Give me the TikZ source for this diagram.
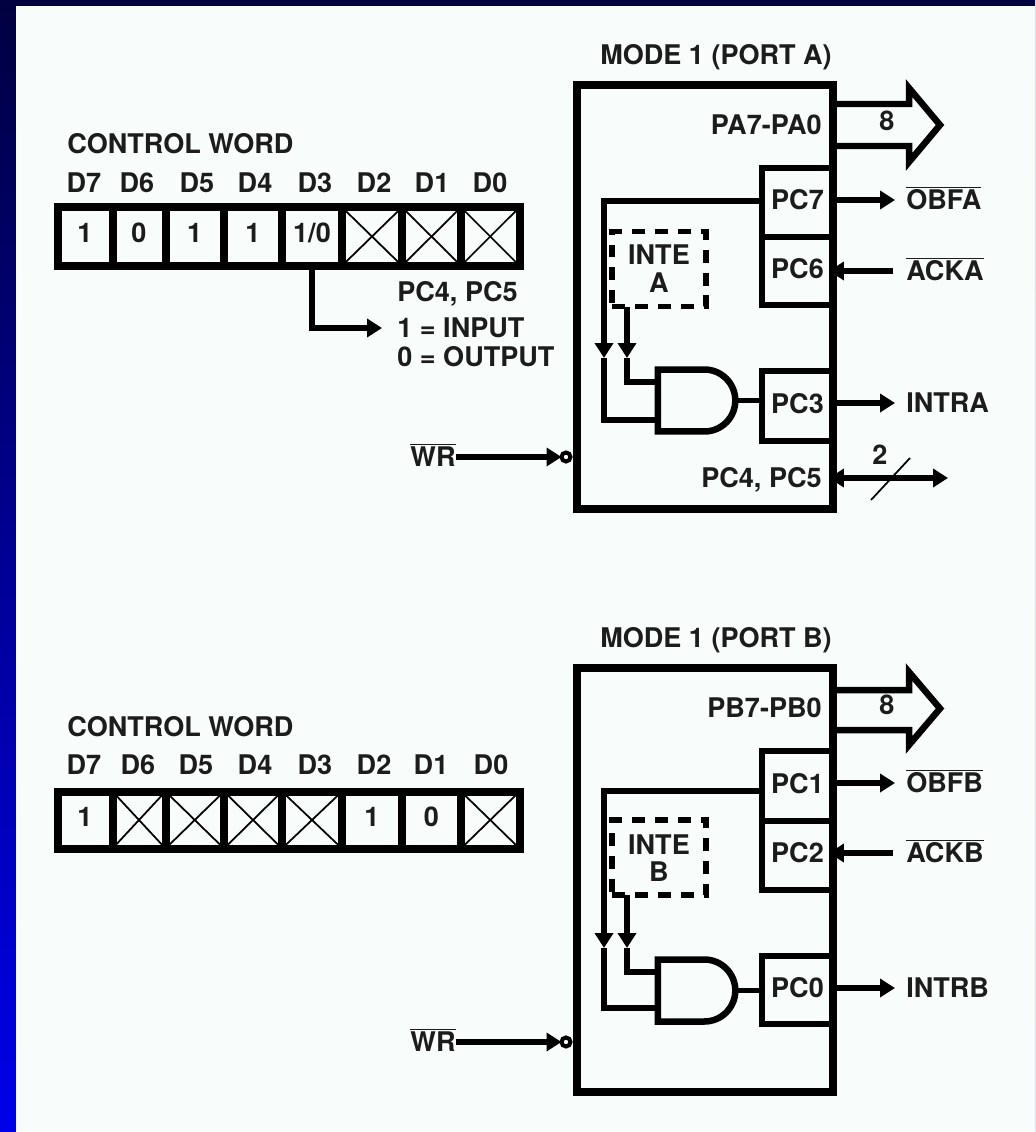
\documentclass[tikz,border=0pt]{standalone}
\usepackage{fontspec}
\setmainfont{TeX Gyre Heros}
\usepackage{xcolor}
\usetikzlibrary{arrows.meta, calc, shapes.gates.logic.US}

\definecolor{paperwhite}{HTML}{F8FCFA}
\definecolor{inktext}{HTML}{1C1C1C}

\tikzset{
  lab/.style={inner sep=0pt, text height=11.1pt, text depth=0pt, text=inktext,
    font=\fontsize{15.4}{18}\selectfont\bfseries},
  wordcell/.style={draw, lab, outer sep=0pt, line width=0.16cm, text depth=4pt,
    minimum width=#1*0.02cm, minimum height=1.17cm},
  crossline/.style={line width=0.035cm},
  blockbox/.style={draw, outer sep=0pt, line width=0.17cm, minimum width=5.12cm, minimum height=8.48cm},
  pcbox/.style={draw, lab, outer sep=0pt, line width=0.11cm, text depth=0.1cm, minimum width=1.42cm, minimum height=#1*0.02cm},
  intebox/.style={draw, lab, align=center, outer sep=0pt, line width=0.11cm,
    dash pattern=on 0.26cm off 0.2cm, minimum width=1.88cm, minimum height=1.5cm},
  andbox/.style={and gate US, draw, outer sep=0pt, line width=0.13cm, minimum width=1.5cm, minimum height=1.24cm},
  wire/.style={line width=0.115cm},
  busline/.style={line width=0.13cm, miter limit=10},
  bubble/.style={circle, draw, inner sep=0pt, outer sep=0pt, line width=0.08cm, minimum size=0.18cm},
}
\newcommand{\barred}[1]{$\overline{\hbox{#1}}$}

\begin{document}
\begin{tikzpicture}[x=0.02cm, y=-0.02cm, >={Triangle[length=0.3cm, width=0.36cm]}]
        \useasboundingbox (0,0) rectangle (1035,1132);
        % Frame
        \shade[top color=black!75!blue, bottom color=blue!92!black] (0,0) rectangle (1035,1132);
        \fill[paperwhite] (16,6) rectangle (1035,1132);

        % Control word, port A
        \node[lab, anchor=west] (titleA) at (67,144) {CONTROL WORD};
        \node[lab] (bitAseven) at (84,183) {D7};
        \node[lab] (bitAsix) at (137,183) {D6};
        \node[lab] (bitAfive) at (197,183) {D5};
        \node[lab] (bitAfour) at (255,183) {D4};
        \node[lab] (bitAthree) at (315,183) {D3};
        \node[lab] (bitAtwo) at (374,183) {D2};
        \node[lab] (bitAone) at (432,183) {D1};
        \node[lab] (bitAzero) at (490,183) {D0};

        \node[wordcell=55] (wAseven) at (85,236.5) {1};
        \node[wordcell=53] (wAsix) at (139,236.5) {0};
        \node[wordcell=58.5] (wAfive) at (194.75,236.5) {1};
        \node[wordcell=58] (wAfour) at (253,236.5) {1};
        \node[wordcell=60] (wAthree) at (312,236.5) {1/0};
        \node[wordcell=60] (wAtwo) at (372,236.5) {};
        \node[wordcell=59] (wAone) at (431.5,236.5) {};
        \node[wordcell=58.5] (wAzero) at (490.25,236.5) {};

        \draw[crossline] (wAtwo.north west) -- (wAtwo.south east);
        \draw[crossline] (wAtwo.south west) -- (wAtwo.north east);
        \draw[crossline] (wAone.north west) -- (wAone.south east);
        \draw[crossline] (wAone.south west) -- (wAone.north east);
        \draw[crossline] (wAzero.north west) -- (wAzero.south east);
        \draw[crossline] (wAzero.south west) -- (wAzero.north east);

        \node[lab, anchor=west] (noteAtop) at (397,292) {PC4, PC5};
        \node[lab, anchor=west] (noteAin) at (397,328) {1 = INPUT};
        \node[lab, anchor=west] (noteAout) at (397,357) {0 = OUTPUT};
        \draw[wire, ->, shorten >=0.3cm] (wAthree.south) |- (noteAin.west);

        % Port A block
        \node[lab] (modeA) at (716,55) {MODE 1 (PORT A)};
        \node[pcbox=69] (pcAseven) at (797.5,202.5) {PC7};
        \node[pcbox=68] (pcAsix) at (797.5,271) {PC6};
        \node[pcbox=70] (pcAthree) at (797.5,406) {PC3};
        \node[blockbox] (blockA) at (705,297) {};
        \node[lab, anchor=east] (portA) at (822,125) {PA7-PA0};
        \node[lab, anchor=east] (pinsA) at (822,478) {PC4, PC5};

        % Bus arrow, port A
        \draw[busline] (blockA.east |- 0,104) -- (909,104) -- (909,88) -- (940,125) -- (909,162) -- (909,146) -- (blockA.east |- 0,146);
        \node[lab] (busA) at (887,121) {8};

        % Latch and gate, port A
        \node[intebox] (inteA) at (659,269) {};
        \node[lab] (inteAtop) at (659,255) {INTE};
        \node[lab] (inteAlow) at (659,283) {A};
        \node[andbox] (andA) at (694,400.5) {};
        \coordinate (bendA) at (604,201);
        \coordinate (tipAone) at (604,358);
        \coordinate (tapA) at (627,307);
        \coordinate (tipAtwo) at (627,358);
        \coordinate (inAone) at ($(andA.west)+(0,-18.5)$);
        \coordinate (inAtwo) at ($(andA.west)+(0,19.5)$);
        \draw[wire, ->] (bendA -| pcAseven.west) -- (bendA) -- (tipAone);
        \draw[wire] (tipAone) |- (inAtwo);
        \draw[wire, ->] (tapA) -- (tipAtwo);
        \draw[wire] (tipAtwo) |- (inAone);
        \draw[wire] (andA.east) -- (andA.east -| pcAthree.west);

        % Port A pins
        \node[lab, anchor=west] (obfA) at (906,200) {\barred{OBFA}};
        \node[lab, anchor=west] (ackA) at (906,271) {\barred{ACKA}};
        \node[lab, anchor=west] (intrA) at (906,403) {INTRA};
        \draw[wire, ->, shorten >=0.22cm] (blockA.east |- obfA) -- (obfA.west);
        \draw[wire, ->, shorten <=0.26cm, shorten >=-0.08cm] (ackA.west) -- (blockA.east |- ackA);
        \draw[wire, ->, shorten >=0.22cm] (blockA.east |- intrA) -- (intrA.west);
        \coordinate (pinsAend) at (948,478);
        \draw[wire, <->, shorten <=-0.08cm] (blockA.east |- pinsAend) -- (pinsAend);
        \coordinate (slashAlow) at (871,500);
        \coordinate (slashAhigh) at (910,458);
        \draw[crossline] (slashAlow) -- (slashAhigh);
        \node[lab] (countA) at (880,455) {2};

        \node[lab] (wrA) at (433,457) {\barred{WR}};
        \node[bubble] (notA) at (566,457) {};
        \draw[wire, ->] (wrA.east) -- (notA.west);

        % Control word, port B
        \node[lab, anchor=west] (titleB) at (67,727) {CONTROL WORD};
        \node[lab] (bitBseven) at (84,765) {D7};
        \node[lab] (bitBsix) at (138,765) {D6};
        \node[lab] (bitBfive) at (196,765) {D5};
        \node[lab] (bitBfour) at (255,765) {D4};
        \node[lab] (bitBthree) at (315,765) {D3};
        \node[lab] (bitBtwo) at (374,765) {D2};
        \node[lab] (bitBone) at (431,765) {D1};
        \node[lab] (bitBzero) at (491,765) {D0};

        \node[wordcell=55, minimum height=1.14cm] (wBseven) at (85,820) {1};
        \node[wordcell=53, minimum height=1.14cm] (wBsix) at (139,820) {};
        \node[wordcell=58.5, minimum height=1.14cm] (wBfive) at (194.75,820) {};
        \node[wordcell=58, minimum height=1.14cm] (wBfour) at (253,820) {};
        \node[wordcell=60, minimum height=1.14cm] (wBthree) at (312,820) {};
        \node[wordcell=60, minimum height=1.14cm] (wBtwo) at (372,820) {1};
        \node[wordcell=59, minimum height=1.14cm] (wBone) at (431.5,820) {0};
        \node[wordcell=58.5, minimum height=1.14cm] (wBzero) at (490.25,820) {};

        \draw[crossline] (wBsix.north west) -- (wBsix.south east);
        \draw[crossline] (wBsix.south west) -- (wBsix.north east);
        \draw[crossline] (wBfive.north west) -- (wBfive.south east);
        \draw[crossline] (wBfive.south west) -- (wBfive.north east);
        \draw[crossline] (wBfour.north west) -- (wBfour.south east);
        \draw[crossline] (wBfour.south west) -- (wBfour.north east);
        \draw[crossline] (wBthree.north west) -- (wBthree.south east);
        \draw[crossline] (wBthree.south west) -- (wBthree.north east);
        \draw[crossline] (wBzero.north west) -- (wBzero.south east);
        \draw[crossline] (wBzero.south west) -- (wBzero.north east);

        % Port B block
        \node[lab] (modeB) at (716,638) {MODE 1 (PORT B)};
        \node[pcbox=70] (pcBone) at (797.5,786) {PC1};
        \node[pcbox=69] (pcBtwo) at (797.5,855.5) {PC2};
        \node[pcbox=68] (pcBzero) at (797.5,990) {PC0};
        \node[blockbox] (blockB) at (705,880) {};
        \node[lab, anchor=east] (portB) at (822,708) {PB7-PB0};

        % Bus arrow, port B
        \draw[busline] (blockB.east |- 0,690) -- (909,690) -- (909,672) -- (940,708.5) -- (909,745) -- (909,730) -- (blockB.east |- 0,730);
        \node[lab] (busB) at (887,705) {8};

        % Latch and gate, port B
        \node[intebox] (inteB) at (659,857.5) {};
        \node[lab] (inteBtop) at (659,845) {INTE};
        \node[lab] (inteBlow) at (659,872) {B};
        \node[andbox] (andB) at (694,990.5) {};
        \coordinate (bendB) at (604,791);
        \coordinate (tipBone) at (604,948);
        \coordinate (tapB) at (627,895);
        \coordinate (tipBtwo) at (627,948);
        \coordinate (inBone) at ($(andB.west)+(0,-18.5)$);
        \coordinate (inBtwo) at ($(andB.west)+(0,17.5)$);
        \draw[wire, ->] (bendB -| pcBone.west) -- (bendB) -- (tipBone);
        \draw[wire] (tipBone) |- (inBtwo);
        \draw[wire, ->] (tapB) -- (tipBtwo);
        \draw[wire] (tipBtwo) |- (inBone);
        \draw[wire] (andB.east) -- (andB.east -| pcBzero.west);

        % Port B pins
        \node[lab, anchor=west] (obfB) at (906,783) {\barred{OBFB}};
        \node[lab, anchor=west] (ackB) at (906,853) {\barred{ACKB}};
        \node[lab, anchor=west] (intrB) at (906,988) {INTRB};
        \draw[wire, ->, shorten >=0.22cm] (blockB.east |- obfB) -- (obfB.west);
        \draw[wire, ->, shorten <=0.26cm, shorten >=-0.08cm] (ackB.west) -- (blockB.east |- ackB);
        \draw[wire, ->, shorten >=0.22cm] (blockB.east |- intrB) -- (intrB.west);

        \node[lab] (wrB) at (433,1042) {\barred{WR}};
        \node[bubble] (notB) at (566,1042) {};
        \draw[wire, ->] (wrB.east) -- (notB.west);
\end{tikzpicture}
\end{document}
